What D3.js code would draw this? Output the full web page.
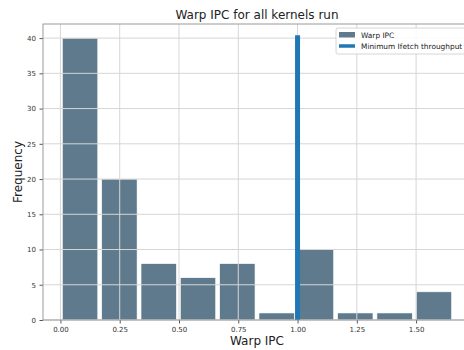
<!DOCTYPE html>
<html>
<head>
<meta charset="utf-8">
<script src="https://cdn.jsdelivr.net/npm/d3@7"></script>
<style>
  html, body { margin: 0; padding: 0; background: #fff; }
  svg { display: block; font-family: "DejaVu Sans", sans-serif; }
</style>
</head>
<body>
<svg id="chart" width="464" height="350"></svg>
<script>
// Histogram of warp IPC across all kernels: 10 equal bins
const binEdges = [0.0, 0.1658, 0.3316, 0.4974, 0.6632, 0.829, 0.9948, 1.1606, 1.3264, 1.4922, 1.658];
const binCounts = [40, 20, 8, 6, 8, 1, 10, 1, 1, 4];
const xTicks = [0.0, 0.25, 0.5, 0.75, 1.0, 1.25, 1.5];
const yTicks = [0, 5, 10, 15, 20, 25, 30, 35, 40];
const ifetchX = 1.0;      // minimum ifetch throughput marker
const ifetchTop = 40.4;
const legendLabels = ["Warp IPC", "Minimum Ifetch throughput"];

const svg = d3.select("#chart");
const m = { left: 43, top: 24, right: 471, bottom: 320 };

const x = d3.scaleLinear().domain([-0.0735, 1.7315]).range([m.left, m.right]);
const y = d3.scaleLinear().domain([0, 42]).range([m.bottom, m.top]);

const barColor = "#5f7a8c";
const lineColor = "#1f77b4";
const gridColor = "#d6d6d6";

// bars (rwidth 0.9, white edges)
const bins = binCounts.map((c, i) => ({ x0: binEdges[i], x1: binEdges[i + 1], c }));
svg.append("g").selectAll("rect").data(bins).join("rect")
  .attr("x", d => x(d.x0 + (d.x1 - d.x0) * 0.05))
  .attr("width", d => x(d.x1 - (d.x1 - d.x0) * 0.05) - x(d.x0 + (d.x1 - d.x0) * 0.05))
  .attr("y", d => y(d.c))
  .attr("height", d => y(0) - y(d.c))
  .attr("fill", barColor)
  .attr("stroke", "#ffffff")
  .attr("stroke-width", 0.6);

// grid drawn over bars
const grid = svg.append("g");
grid.selectAll(".gx").data(xTicks).join("line")
  .attr("x1", d => x(d)).attr("x2", d => x(d))
  .attr("y1", m.top).attr("y2", m.bottom)
  .attr("stroke", gridColor).attr("stroke-width", 1);
grid.selectAll(".gy").data(yTicks).join("line")
  .attr("x1", m.left).attr("x2", m.right)
  .attr("y1", d => y(d)).attr("y2", d => y(d))
  .attr("stroke", gridColor).attr("stroke-width", 1);

// vertical threshold line
svg.append("line")
  .attr("x1", x(ifetchX)).attr("x2", x(ifetchX))
  .attr("y1", y(0)).attr("y2", y(ifetchTop))
  .attr("stroke", lineColor).attr("stroke-width", 5);

// axes
const xAxis = d3.axisBottom(x).tickValues(xTicks).tickFormat(d3.format(".2f")).tickSize(3.5).tickPadding(3.5);
const yAxis = d3.axisLeft(y).tickValues(yTicks).tickFormat(d3.format("d")).tickSize(3.5).tickPadding(3.5);

const gx = svg.append("g").attr("transform", `translate(0,${m.bottom})`).call(xAxis);
const gy = svg.append("g").attr("transform", `translate(${m.left},0)`).call(yAxis);
[gx, gy].forEach(g => {
  g.select(".domain").remove();
  g.selectAll(".tick line").attr("stroke", "#555");
  g.selectAll(".tick text").attr("fill", "#333").style("font-size", "7px")
    .style("font-family", "'DejaVu Sans', sans-serif");
});

// spines
svg.append("rect")
  .attr("x", m.left).attr("y", m.top)
  .attr("width", m.right - m.left).attr("height", m.bottom - m.top)
  .attr("fill", "none").attr("stroke", "#999").attr("stroke-width", 1);

// title and axis labels
svg.append("text").attr("x", (m.left + m.right) / 2).attr("y", 19)
  .attr("text-anchor", "middle").style("font-size", "12px").attr("fill", "#222")
  .text("Warp IPC for all kernels run");
svg.append("text").attr("x", (m.left + m.right) / 2).attr("y", 345)
  .attr("text-anchor", "middle").style("font-size", "12px").attr("fill", "#222")
  .text("Warp IPC");
svg.append("text").attr("transform", `translate(22,${(m.top + m.bottom) / 2}) rotate(-90)`)
  .attr("text-anchor", "middle").style("font-size", "12px").attr("fill", "#222")
  .text("Frequency");

// legend
const lg = svg.append("g").attr("transform", "translate(336,28)");
lg.append("rect").attr("x", 0).attr("y", 0).attr("width", 160).attr("height", 26)
  .attr("rx", 2).attr("fill", "#fff").attr("fill-opacity", 0.85)
  .attr("stroke", "#ccc").attr("stroke-width", 0.8);
lg.append("rect").attr("x", 3).attr("y", 4).attr("width", 16).attr("height", 5.5).attr("fill", barColor);
lg.append("line").attr("x1", 3).attr("x2", 19).attr("y1", 18).attr("y2", 18)
  .attr("stroke", lineColor).attr("stroke-width", 3.5);
lg.selectAll("text.lbl").data(legendLabels).join("text")
  .attr("x", 25).attr("y", (d, i) => 9.5 + i * 11)
  .style("font-size", "7.4px").attr("fill", "#222").text(d => d);
</script>
</body>
</html>
